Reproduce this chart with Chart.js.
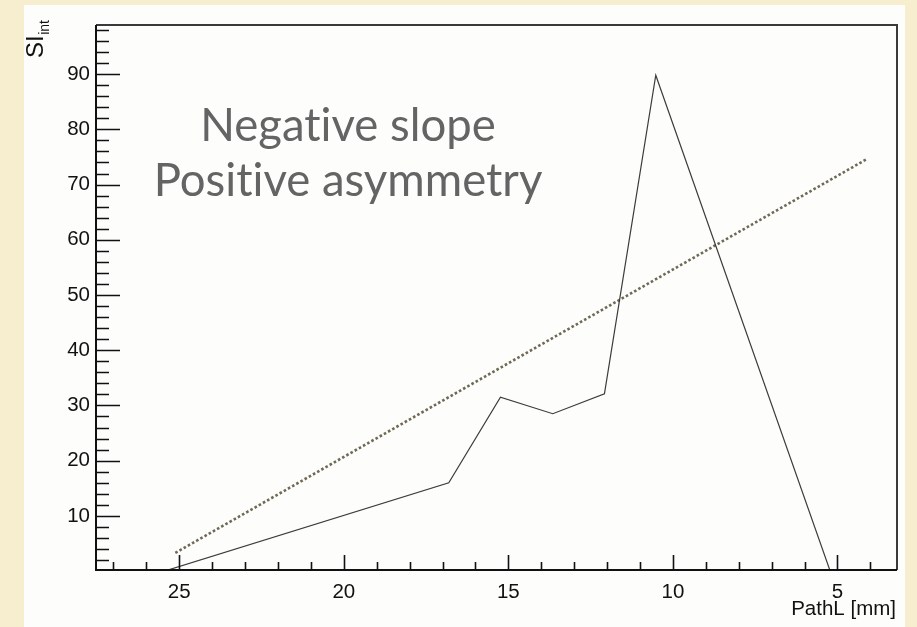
<!DOCTYPE html>
<html>
<head>
<meta charset="utf-8">
<script src="https://cdn.jsdelivr.net/npm/chart.js@4.4.1/dist/chart.umd.min.js"></script>
<style>
  html, body { margin: 0; padding: 0; }
  body {
    width: 917px; height: 627px; overflow: hidden; position: relative;
    background: #f7eecf;
  }
  #panel {
    position: absolute; left: 24px; top: 5px; width: 881px; height: 622px;
    background: #fdfdfc;
  }
  #chart { position: absolute; left: 0; top: 0; }
  #note {
    position: absolute; left: 148px; top: 96px; width: 400px;
    text-align: center; color: #646464;
    font-family: Lato, "Open Sans", sans-serif; font-size: 45.5px; line-height: 55px;
    font-variant-ligatures: none; font-feature-settings: "liga" 0;
    white-space: nowrap;
  }
</style>
</head>
<body>
<div id="panel"></div>
<canvas id="chart" width="917" height="627"></canvas>
<div id="note">Negative slope<br>Positive asymmetry</div>
<script>
// Measured path length (mm) and integrated signal
const pathL = [25.45, 16.81, 15.24, 13.65, 12.08, 10.52, 5.22];
const siInt = [0.0, 16.0, 31.5, 28.5, 32.1, 89.8, 0.0];

// Straight-line fit through the measurements
const fitPathL = [25.12, 4.11];
const fitSi = [3.3, 74.6];

// Axis labels
const xTickLabels = [25, 20, 15, 10, 5];
const yTickLabels = [10, 20, 30, 40, 50, 60, 70, 80, 90];
const xTitle = 'PathL [mm]';
const xRange = [3.19, 27.53];
const yRange = [0.2, 98.9];

const tickFont = { family: "'Liberation Sans', Arial, Helvetica, sans-serif", size: 20.5 };

// ROOT-style frame with inward major/minor tick marks and the axis titles
const frameTicks = {
  id: 'frameTicks',
  afterDatasetsDraw(chart) {
    const { ctx, chartArea: a, scales: { x, y } } = chart;
    ctx.save();
    ctx.lineWidth = 1.6;
    ctx.strokeStyle = '#111';
    ctx.beginPath();
    for (let v = Math.ceil(xRange[0]); v <= Math.floor(xRange[1]); v++) {
      const px = Math.round(x.getPixelForValue(v)) + 0.5;
      const len = (v % 5 === 0) ? 15 : 8;
      ctx.moveTo(px, a.bottom); ctx.lineTo(px, a.bottom - len);
    }
    for (let v = 2; v <= yRange[1]; v += 2) {
      const py = Math.round(y.getPixelForValue(v)) + 0.5;
      const len = (v % 10 === 0) ? 24 : 13;
      ctx.moveTo(a.left, py); ctx.lineTo(a.left + len, py);
    }
    ctx.stroke();

    ctx.lineWidth = 2;
    ctx.strokeStyle = '#3a3a3a';
    ctx.beginPath();
    ctx.moveTo(a.left, a.top); ctx.lineTo(a.right, a.top); ctx.lineTo(a.right, a.bottom);
    ctx.stroke();
    ctx.strokeStyle = '#111';
    ctx.beginPath();
    ctx.moveTo(a.left, a.top); ctx.lineTo(a.left, a.bottom); ctx.lineTo(a.right, a.bottom);
    ctx.stroke();

    // x-axis title, right-aligned under the frame
    ctx.fillStyle = '#111';
    ctx.font = "20.5px 'Liberation Sans', Arial, sans-serif";
    ctx.textAlign = 'right';
    ctx.textBaseline = 'alphabetic';
    ctx.fillText(xTitle, a.right - 1, 615);

    // y-axis title "SI" with subscript "int"
    ctx.translate(43, 58);
    ctx.rotate(-Math.PI / 2);
    ctx.textAlign = 'left';
    ctx.font = "24px 'Liberation Sans', Arial, sans-serif";
    ctx.fillText('SI', 0, 0);
    const w = ctx.measureText('SI').width;
    ctx.font = "14px 'Liberation Sans', Arial, sans-serif";
    ctx.fillText('int', w + 0.5, 6);
    ctx.restore();
  }
};

new Chart(document.getElementById('chart'), {
  type: 'scatter',
  data: {
    datasets: [
      {
        data: pathL.map((v, i) => ({ x: v, y: siInt[i] })),
        showLine: true,
        borderColor: '#3c3c3c',
        borderWidth: 1.2,
        pointRadius: 0,
        tension: 0
      },
      {
        data: fitPathL.map((v, i) => ({ x: v, y: fitSi[i] })),
        showLine: true,
        borderColor: '#6f6a55',
        borderWidth: 2.6,
        borderDash: [2.6, 2.2],
        borderCapStyle: 'butt',
        pointRadius: 0
      }
    ]
  },
  options: {
    responsive: false,
    animation: false,
    events: [],
    layout: { padding: { left: 0, right: 20, top: 25, bottom: 0 } },
    plugins: { legend: { display: false }, tooltip: { enabled: false } },
    scales: {
      x: {
        type: 'linear',
        reverse: true,
        min: xRange[0],
        max: xRange[1],
        afterBuildTicks: s => { s.ticks = xTickLabels.map(v => ({ value: v })); },
        afterFit: s => { s.height = 57; },
        grid: { display: false, drawTicks: false },
        border: { display: false },
        ticks: { color: '#111', font: tickFont, padding: 10, maxRotation: 0, autoSkip: false }
      },
      y: {
        type: 'linear',
        min: yRange[0],
        max: yRange[1],
        afterBuildTicks: s => { s.ticks = yTickLabels.map(v => ({ value: v })); },
        afterFit: s => { s.width = 96; },
        grid: { display: false, drawTicks: false },
        border: { display: false },
        ticks: { color: '#111', font: tickFont, padding: 6, autoSkip: false }
      }
    }
  },
  plugins: [frameTicks]
});
</script>
</body>
</html>
